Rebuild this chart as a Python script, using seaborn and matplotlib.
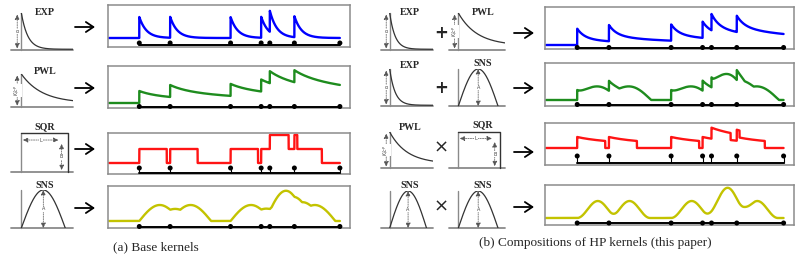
import numpy as np
import matplotlib
matplotlib.use("Agg")
import matplotlib.pyplot as plt
import seaborn as sns

# ---------------- data ----------------
events = [1.25, 2.53, 5.04, 6.31, 6.67, 7.69, 9.58]          # event times (shared by all panels)
base_names = ["EXP", "PWL", "SQR", "SNS"]
comp_left = ["EXP", "EXP", "PWL", "SNS"]
comp_right = ["PWL", "SNS", "SQR", "SNS"]
comp_ops = ["+", "+", "×", "×"]
base_colors = ["#0000ff", "#1e8c1e", "#ff1414", "#c3c300"]
comp_colors = ["#0000ff", "#1e8c1e", "#ff1414", "#c3c300"]
base_mu = [9, 5, 11, 7]          # background intensity per base panel
comp_mu = [4, 6, 17, 7]          # background intensity per composition panel
exp_par = [21, 3.4]              # alpha, beta
pwl_par = [12, 1.29, 1.0]        # K, c, p
sqr_par = [14, 1.14]             # B, L
sns_par = [16, 1.7]              # A, L
exp_pwl_par = [9, 3.4, 7.3, 1.29, 1.0]
exp_sns_par = [10, 3.4, 13, 1.7]
pwl_sqr_par = [11, 2.0, 1.0, 1.13]
sns_sns_par = [17, 1.66]
captions = ["(a) Base kernels", "(b) Compositions of HP kernels (this paper)"]


# ---------------- kernels ----------------
def k_exp(dt, a, b):
    return np.where(dt >= 0, a * np.exp(-b * np.clip(dt, 0, None)), 0.0)


def k_pwl(dt, a, c, p):
    return np.where(dt >= 0, a * (1 + np.clip(dt, 0, None) / c) ** (-p), 0.0)


def k_sqr(dt, B, L):
    return np.where((dt >= 0) & (dt < L), B, 0.0)


def k_sns(dt, A, L):
    return np.where((dt >= 0) & (dt <= L), A * np.sin(np.pi * np.clip(dt, 0, L) / L), 0.0)


base_kernels = [
    lambda d: k_exp(d, *exp_par),
    lambda d: k_pwl(d, *pwl_par),
    lambda d: k_sqr(d, *sqr_par),
    lambda d: k_sns(d, *sns_par),
]
comp_kernels = [
    lambda d: k_exp(d, exp_pwl_par[0], exp_pwl_par[1]) + k_pwl(d, *exp_pwl_par[2:]),
    lambda d: k_exp(d, exp_sns_par[0], exp_sns_par[1]) + k_sns(d, *exp_sns_par[2:]),
    lambda d: k_pwl(d, *pwl_sqr_par[:3]) * k_sqr(d, 1.0, pwl_sqr_par[3]),
    lambda d: k_sns(d, 1.0, sns_sns_par[1]) * k_sns(d, *sns_sns_par),
]

t = np.linspace(0.0, events[-1] - 1e-3, 4000)
ev = np.array(events)


def intensity(kernel, mu):
    dt = t[:, None] - ev[None, :]
    return mu + kernel(dt).sum(axis=1)


# ---------------- figure ----------------
sns.set_theme(style="white")
plt.rcParams["font.family"] = ["DejaVu Sans"]
W, H = 806, 257
fig = plt.figure(figsize=(8.06, 2.57), dpi=100)
SERIF = ["Liberation Serif", "DejaVu Serif"]


def px_axes(x0, y0, x1, y1):
    return fig.add_axes([x0 / W, 1 - y1 / H, (x1 - x0) / W, (y1 - y0) / H])


ov = fig.add_axes([0, 0, 1, 1])
ov.set_xlim(0, W)
ov.set_ylim(H, 0)
ov.axis("off")


def draw_panel(box, kernel, mu, color, line_y, dot_y, stems):
    x0, y0, x1, y1 = box
    ax = px_axes(x0, y0, x1, y1)
    lam = intensity(kernel, mu)
    sns.lineplot(x=t, y=lam, ax=ax, color=color, linewidth=1.7, sort=False, estimator=None)
    ax.plot([events[0], events[-1]], [line_y, line_y], color="black", lw=1.4, zorder=4)
    if stems:
        ax.vlines(events, line_y, dot_y, color="black", lw=0.8, zorder=4)
    sns.scatterplot(x=events, y=[dot_y] * len(events), ax=ax, color="black", s=13,
                    edgecolor="none", zorder=5, clip_on=False)
    ax.set_xlim(-0.05, 10.0)
    ax.set_ylim(0, y1 - y0)
    ax.set_xticks([])
    ax.set_yticks([])
    ax.set_xlabel("")
    ax.set_ylabel("")
    for sp in ax.spines.values():
        sp.set_color("#8c8c8c")
        sp.set_linewidth(1.1)
    return ax


def darrow(ax, p0, p1, label, rot=0):
    ax.annotate("", xy=p1, xytext=p0,
                arrowprops=dict(arrowstyle="<|-|>,head_length=0.25,head_width=0.12",
                                lw=0.5, color="#555555", linestyle=(0, (2, 1.5)),
                                shrinkA=0, shrinkB=0), annotation_clip=False)
    ax.text((p0[0] + p1[0]) / 2, (p0[1] + p1[1]) / 2, label, fontsize=3.5, color="#444444",
            ha="center", va="center", rotation=rot,
            bbox=dict(facecolor="white", edgecolor="none", pad=0.3))


def draw_icon(kind, x0, x1, y_top, y_axis):
    ax = px_axes(x0, y_top, x1, y_axis)
    ax.set_xlim(-0.2, 1.0)
    ax.set_ylim(0, 1.0)
    ax.axis("off")
    s = np.linspace(0, 1, 200)
    axis_col = "#8a8a8a"
    curve_col = "#333333"
    ax.plot([-0.2, 1.0], [0, 0], color=axis_col, lw=1.3, clip_on=False)
    ax.plot([0, 0], [0, 1.0], color=axis_col, lw=1.0, clip_on=False)
    if kind == "EXP":
        sns.lineplot(x=s, y=0.02 + 0.98 * np.exp(-8 * s), ax=ax, color=curve_col, lw=0.9,
                     sort=False, estimator=None)
        darrow(ax, (-0.08, 0.04), (-0.08, 0.96), "α")
    elif kind == "PWL":
        sns.lineplot(x=s, y=0.12 + 0.88 * np.exp(-2.5 * s), ax=ax, color=curve_col, lw=0.9,
                     sort=False, estimator=None)
        darrow(ax, (-0.08, 0.04), (-0.08, 0.96), r"$K/c^p$", rot=90)
    elif kind == "SQR":
        ax.plot([0, 0.9, 0.9], [1.0, 1.0, 0.0], color=curve_col, lw=1.0, clip_on=False)
        darrow(ax, (0.03, 0.82), (0.72, 0.82), "L")
        darrow(ax, (0.78, 0.05), (0.78, 0.72), "B")
    elif kind == "SNS":
        ss = np.linspace(0, 0.85, 200)
        sns.lineplot(x=ss, y=np.sin(np.pi * ss / 0.85), ax=ax, color=curve_col, lw=0.9,
                     sort=False, estimator=None)
        darrow(ax, (0.425, 0.0), (0.425, 1.0), "A")
    return ax


def title(x, y, s):
    fig.text(x / W, 1 - y / H, s, ha="center", va="center", fontsize=7.2,
             fontweight="bold", family=SERIF)


def big_arrow(xc, y):
    ov.annotate("", xy=(xc + 10, y), xytext=(xc - 10, y),
                arrowprops=dict(arrowstyle="->,head_length=0.45,head_width=0.3",
                                lw=1.3, color="black", shrinkA=0, shrinkB=0))


# ---- left: base kernels ----
left_boxes = [(108, 5, 350, 47), (108, 66, 350, 108), (108, 133, 350, 174), (108, 186, 350, 228)]
left_icons_y = [(13, 50), (74, 107), (133, 172), (190, 228)]
left_title_y = [12, 72, 127, 186]
left_arrow_y = [27, 88, 149, 208]
left_evt = [(2, 4, False), (1.5, 1.5, False), (1.5, 6, True), (1.5, 1.5, False)]
for i, name in enumerate(base_names):
    ly, dy, st = left_evt[i]
    draw_panel(left_boxes[i], base_kernels[i], base_mu[i], base_colors[i], ly, dy, st)
    draw_icon(name, 11, 73, *left_icons_y[i])
    title(45, left_title_y[i], name)
    big_arrow(85, left_arrow_y[i])

# ---- right: compositions ----
right_boxes = [(545, 7, 794, 49), (545, 63, 794, 106), (545, 123, 794, 165), (545, 185, 794, 225)]
right_icons_y = [(13, 50), (69, 106), (132, 168), (191, 228)]
right_title_y = [[12, 12], [66, 64], [127, 125], [185, 185]]
right_arrow_y = [33, 88, 152, 207]
right_op_y = [33, 88, 148, 207]
right_evt = [(1.5, 1.5, False), (1.5, 1.5, False), (2, 9, True), (2, 2, False)]
for i in range(4):
    ly, dy, st = right_evt[i]
    draw_panel(right_boxes[i], comp_kernels[i], comp_mu[i], comp_colors[i], ly, dy, st)
    draw_icon(comp_left[i], 381, 433, *right_icons_y[i])
    draw_icon(comp_right[i], 449, 505, *right_icons_y[i])
    title(410, right_title_y[i][0], comp_left[i])
    title(483, right_title_y[i][1], comp_right[i])
    op = comp_ops[i]
    fig.text(441 / W, 1 - right_op_y[i] / H, op, ha="center", va="center",
             fontsize=12 if op == "+" else 13, fontweight="bold" if op == "+" else "normal")
    big_arrow(524, right_arrow_y[i])

# ---- captions ----
fig.text(156 / W, 1 - 247 / H, captions[0], ha="center", va="center", fontsize=9.5, family=SERIF)
fig.text(595 / W, 1 - 243 / H, captions[1], ha="center", va="center", fontsize=9.5, family=SERIF)

fig.savefig("out.png", dpi=100, facecolor="white")
